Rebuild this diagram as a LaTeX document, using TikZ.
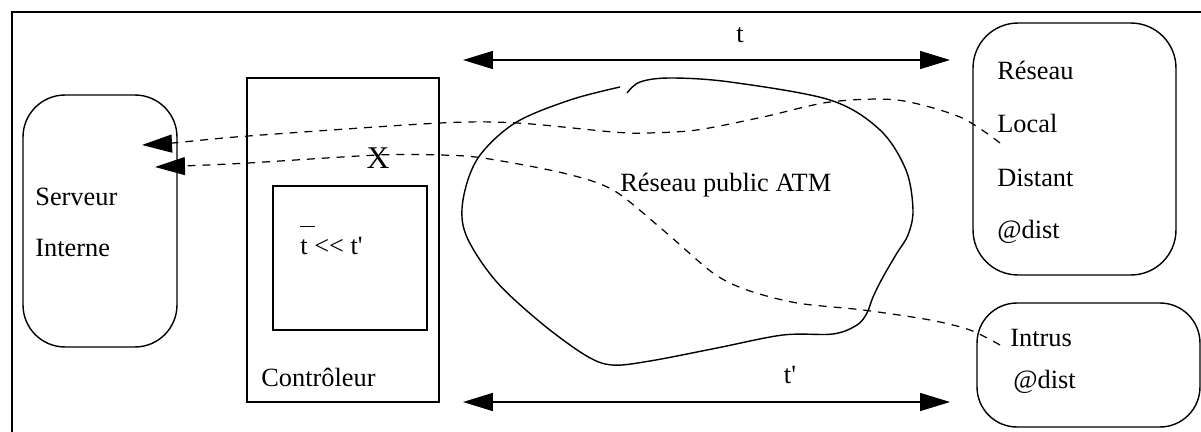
\documentclass[tikz,border=0pt]{standalone}
\usepackage{fontspec}
\setmainfont{Liberation Serif}
\usetikzlibrary{arrows.meta}

\begin{document}
\begin{tikzpicture}[x=0.02cm,y=-0.02cm,
  box/.style={draw,line width=0.8pt,inner sep=0pt,outer sep=0pt},
  flow/.style={line width=0.7pt,dash pattern=on 4.5pt off 4pt,-{Triangle[length=0.6cm,width=0.36cm]}},
  span/.style={line width=0.9pt,{Triangle[length=0.6cm,width=0.36cm]}-{Triangle[length=0.6cm,width=0.36cm]}},
  lbl/.style={anchor=west,inner sep=0pt,font=\fontsize{15}{18}\selectfont}]
\useasboundingbox (0,0) rectangle (1201,432);
\draw [line width=0.6pt] (12,12) rectangle (1230,460);
% boites
\node (serveur) [box,rounded corners=0.84cm,minimum width=3.08cm,minimum height=5.04cm] at (100,221) {};
\node (ctrl) [box,minimum width=3.84cm,minimum height=6.48cm] at (343,240) {};
\node (filtre) [box,minimum width=3.08cm,minimum height=2.88cm] at (350,258) {};
\node (lan) [box,rounded corners=0.9cm,minimum width=4.06cm,minimum height=5.04cm] at (1074.5,149) {};
\node (intrus) [box,rounded corners=0.8cm,minimum width=4.46cm,minimum height=2.48cm] at (1088.5,365) {};
% textes
\node (srv1) [lbl] at (35,197) {Serveur};
\node (srv2) [lbl] at (35,248) {Interne};
\node (ctrlname) [lbl] at (261,377) {Contrôleur};
\node (cond) [lbl] at (300,240) {\makebox[0pt][l]{\raisebox{1.05em}{\rule{0.55em}{0.6pt}}}t <{}< t\textquotesingle};
\node (lan1) [lbl] at (997,70) {Réseau};
\node (lan2) [lbl] at (997,123) {Local};
\node (lan3) [lbl] at (997,178) {Distant};
\node (lan4) [lbl] at (997,232) {@dist};
\node (int1) [lbl] at (1010,338) {Intrus};
\node (int2) [lbl] at (1013,382) {@dist};
\node (atm) [lbl] at (620,185) {Réseau public ATM};
% nuage
\draw [line width=0.8pt] plot [smooth,tension=0.55] coordinates {(627,93) (640,82) (670,78) (730,82)
  (830,100) (880,130) (906,170) (913,210) (908,235) (897,253) (883,277) (873,297) (867,313)
  (857,325) (833,334) (783,335) (717,348) (650,361) (612,365) (585,355) (540,322) (495,280)
  (466,235) (463,200) (478,158) (515,123) (570,100) (620,87)};
% delais
\coordinate (ta) at (463,60);
\coordinate (tb) at (950,60);
\coordinate (tpa) at (463,402);
\coordinate (tpb) at (950,402);
\draw [span] (ta) -- (tb);
\node (tlab) [lbl,anchor=center] at (740,35) {t};
\draw [span] (tpa) -- (tpb);
\node (tplab) [lbl,anchor=center] at (790,375) {t\textquotesingle};
% flux
\coordinate (lanport) at (1000,143);
\coordinate (intport) at (1000,345);
\coordinate (srvin1) at (142,145);
\coordinate (srvin2) at (155,167);
\draw [flow] plot [smooth] coordinates {(lanport) (960,117) (897,100) (830,102) (763,117)
  (697,130) (647,133) (613,132) (517,123) (440,123) (248,136) (173,143) (srvin1)};
\draw [flow] plot [smooth] coordinates {(intport) (970,330) (930,320) (863,310) (797,303)
  (747,290) (713,273) (663,230) (613,190) (563,173) (483,158) (440,155) (378,155)
  (248,163) (183,166) (srvin2)};
\node (bloque) [font=\fontsize{18}{20}\selectfont,inner sep=0pt] at (378,158) {X};
\end{tikzpicture}
\end{document}
